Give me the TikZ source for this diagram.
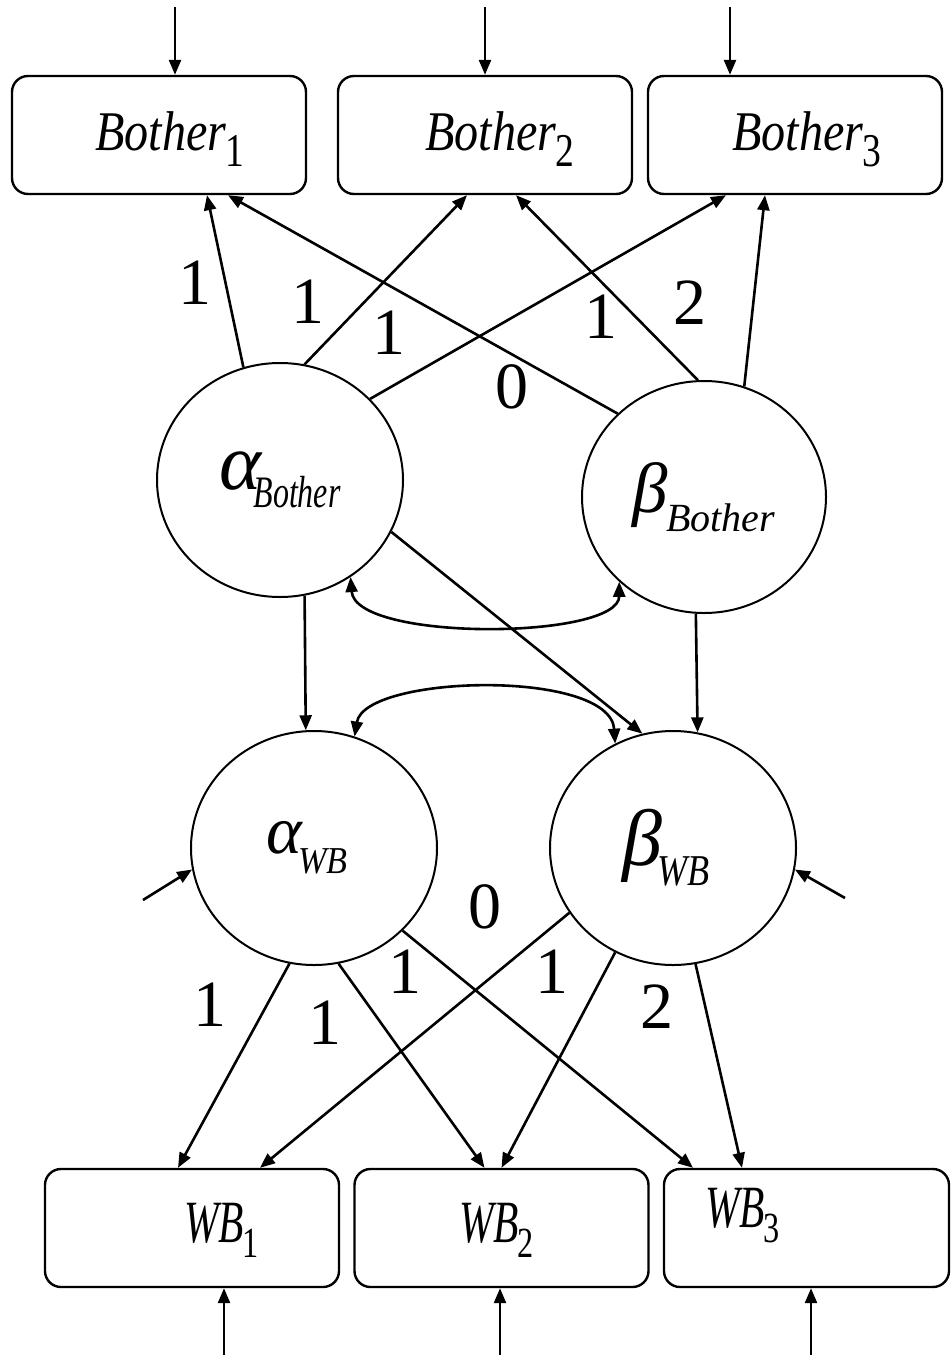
\documentclass[tikz,border=0pt]{standalone}
\usepackage{fontspec}
\setmainfont{Liberation Serif}
\usepackage{graphicx}
\usetikzlibrary{arrows.meta,shapes.geometric,calc}
\newcommand{\Bsub}[1]{\kern-1pt\raisebox{-16pt}{\fontsize{47}{47}\selectfont\scalebox{0.8}[1]{#1}}}
\newcommand{\BoxB}[1]{{\fontsize{56}{56}\selectfont\itshape\scalebox{0.86}[1]{Bother}}\Bsub{#1}}
\newcommand{\WBt}[1]{{\fontsize{60}{60}\selectfont\itshape\scalebox{0.69}[1]{WB}}\kern-1pt\raisebox{-15pt}{\fontsize{43}{43}\selectfont\scalebox{0.75}[1]{#1}}}
\tikzset{
  box/.style={draw, rounded corners=16pt, line width=2.4pt, minimum width=294pt, minimum height=118pt, inner sep=0pt},
  latent/.style={draw, ellipse, line width=2pt, minimum width=246pt, minimum height=234pt, inner sep=0pt},
  arr/.style={line width=2.6pt, -{Triangle[length=15pt,width=12pt]}},
  darr/.style={line width=2.6pt, {Triangle[length=15pt,width=12pt]}-{Triangle[length=15pt,width=12pt]}},
  wlab/.style={font=\fontsize{66}{66}\selectfont, inner sep=0pt},
  btxt/.style={anchor=base west, inner sep=0pt},
}
\begin{document}
\begin{tikzpicture}[x=1pt,y=-1pt]
\path[fill=white] (0,0) rectangle (952,1355);
\useasboundingbox (0,0) rectangle (952,1355);
% observed boxes
\node[box] (b1) at (159,135) {};
\node[box] (b2) at (485,135) {};
\node[box] (b3) at (795,135) {};
\node[btxt] (t1) at (95,150) {\BoxB{1}};
\node[btxt] (t2) at (425,150) {\BoxB{2}};
\node[btxt] (t3) at (732,150) {\BoxB{3}};
\node[box] (w1) at (192,1228) {};
\node[box] (w2) at (501.5,1228) {};
\node[box, minimum width=285pt] (w3) at (806.5,1228) {};
\node[btxt] (u1) at (184,1242) {\WBt{1}};
\node[btxt] (u2) at (459,1242) {\WBt{2}};
\node[btxt] (u3) at (705,1227) {\WBt{3}};
% latent factors
\node[latent] (aB) at (280,480) {{\fontsize{80}{80}\selectfont\itshape α}\kern-8pt\raisebox{-18pt}{\fontsize{45}{45}\selectfont\itshape\scalebox{0.71}[1]{Bother}}};
\node[latent, minimum width=244pt, minimum height=232pt] (bB) at (704,497) {{\fontsize{71}{71}\selectfont\itshape β}\kern-2pt\raisebox{-19pt}{\fontsize{40}{40}\selectfont\itshape Bother}};
\node[latent] (aW) at (314,848) {\kern-14pt{\fontsize{68}{68}\selectfont\itshape α}\kern-4pt\raisebox{-20pt}{\fontsize{38}{38}\selectfont\itshape\scalebox{0.9}[1]{WB}}};
\node[latent] (bW) at (673,848) {\kern-14pt{\fontsize{80}{80}\selectfont\itshape β}\kern-4pt\raisebox{-20pt}{\fontsize{44}{44}\selectfont\itshape\scalebox{0.82}[1]{WB}}};
% free ends
\coordinate (it1) at (175,7);
\coordinate (it2) at (485,7);
\coordinate (it3) at (730,7);
\coordinate (ib1) at (224,1355);
\coordinate (ib2) at (500,1355);
\coordinate (ib3) at (811,1355);
\coordinate (ea) at (143,900);
\coordinate (eb) at (845,898);
% error arrows
\draw[arr] (it1) -- ([xshift=16pt]b1.north);
\draw[arr] (it2) -- (b2.north);
\draw[arr] (it3) -- ([xshift=-65pt]b3.north);
\draw[arr] (ib1) -- ([xshift=32pt]w1.south);
\draw[arr] (ib2) -- ([xshift=-1.5pt]w2.south);
\draw[arr] (ib3) -- ([xshift=4.5pt]w3.south);
\draw[arr] (ea) -- (aW.190);
\draw[arr] (eb) -- (bW.350);
% loadings top
\draw[arr] (aB.108) -- ([xshift=48pt]b1.south);
\draw[arr] (aB.78) -- ([xshift=-18pt]b2.south);
\draw[arr] (aB.42) -- ([xshift=-69pt]b3.south);
\draw[arr] (bB.136) -- ([xshift=69pt]b1.south);
\draw[arr] (bB.93) -- ([xshift=31pt]b2.south);
\draw[arr] (bB.70) -- ([xshift=-30pt]b3.south);
% structural
\draw[arr] (aB.282) -- (aW.94);
\draw[arr] (bB.266.5) -- (bW.78);
\draw[arr] (aB.335) -- (bW.105);
\draw[darr] (aB.306) .. controls +(5,65) and +(0,58) .. (bB.225);
\draw[darr] (aW.70) .. controls +(10,-62) and +(-5,-75) .. (bW.119);
% loadings bottom
\draw[arr] (aW.258) -- ([xshift=-14pt]w1.north);
\draw[arr] (aW.282) -- ([xshift=-17pt]w2.north);
\draw[arr] (aW.317) -- ([xshift=-113.5pt]w3.north);
\draw[arr] (bW.212.5) -- ([xshift=68pt]w1.north);
\draw[arr] (bW.241) -- (w2.north);
\draw[arr] (bW.281) -- ([xshift=-64.5pt]w3.north);
% labels
\node[wlab] (l1) at (195,283) {1};
\node[wlab] (l2) at (308,302) {1};
\node[wlab] (l3) at (389,333) {1};
\node[wlab] (l4) at (512,387) {0};
\node[wlab] (l5) at (601,317) {1};
\node[wlab] (l6) at (690,303) {2};
\node[wlab] (l7) at (485,907) {0};
\node[wlab] (l8) at (210,1005) {1};
\node[wlab] (l9) at (325,1023) {1};
\node[wlab] (l10) at (405,972) {1};
\node[wlab] (l11) at (552,972) {1};
\node[wlab] (l12) at (657,1007) {2};
\end{tikzpicture}
\end{document}
